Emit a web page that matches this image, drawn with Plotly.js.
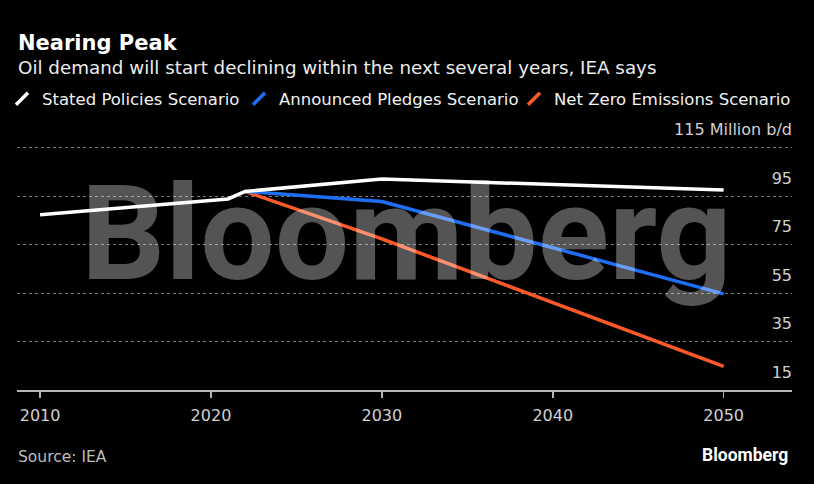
<!DOCTYPE html>
<html>
<head>
<meta charset="utf-8">
<script src="https://cdn.plot.ly/plotly-3.0.1.min.js"></script>
<style>
  html, body { margin: 0; padding: 0; background: #000; }
  #chart { width: 814px; height: 484px; }
</style>
</head>
<body>
<div id="chart"></div>
<script>
// ---- data (million barrels per day) ----
const statedYears = [2010, 2021, 2022, 2030, 2050];
const statedValues = [87.4, 93.9, 97.0, 102.1, 97.6];
const pledgesYears = [2022, 2030, 2050];
const pledgesValues = [97.0, 92.8, 54.7];
const netZeroYears = [2022, 2030, 2050];
const netZeroValues = [97.0, 77.4, 24.8];

const seriesNames = ["Stated Policies Scenario", "Announced Pledges Scenario", "Net Zero Emissions Scenario"];
const xTickVals = [2010, 2020, 2030, 2040, 2050];
const yTickVals = [15, 35, 55, 75, 95, 115];
const yTickText = ["15", "35", "55", "75", "95", "115 Million b/d"];

const colors = ["#ffffff", "#1f6ff6", "#ff5a28"];
const FONT = "DejaVu Sans, Verdana, sans-serif";

const W = 814, H = 484;
const Y_MIN = 15, Y_MAX = 128;            // axis range (top padded so the unit label fits)
const PX_PER_UNIT = 2.45;
const L = 17, R = 22, B = 94;
const T = (H - B) - (Y_MAX - Y_MIN) * PX_PER_UNIT;
const pw = W - L - R, ph = H - T - B;
const px = x => (x - L) / pw;
const py = y => (H - B - y) / ph;

const lineTraces = [
  {x: netZeroYears, y: netZeroValues, name: seriesNames[2], color: colors[2]},
  {x: pledgesYears, y: pledgesValues, name: seriesNames[1], color: colors[1]},
  {x: statedYears, y: statedValues, name: seriesNames[0], color: colors[0]}
].map(s => ({
  type: "scatter", mode: "lines", x: s.x, y: s.y, name: s.name,
  line: {color: s.color, width: 3.5},
  showlegend: false, hoverinfo: "skip"
}));

const legendIds = ["legend", "legend2", "legend3"];
const legendTraces = seriesNames.map((n, i) => ({
  type: "scatter", mode: "markers", x: [null], y: [null], name: n,
  yaxis: "y2",
  legend: legendIds[i],
  marker: {symbol: "line-ne", size: 12, color: colors[i], line: {color: colors[i], width: 3.5}},
  showlegend: true
}));

const legendX = [2, 239, 514];
const legendBase = {
  orientation: "h", xref: "container", yref: "container",
  yanchor: "middle", xanchor: "left",
  bgcolor: "rgba(0,0,0,0)", borderwidth: 0,
  font: {family: FONT, size: 16.5, color: "#f2f2f2"}
};
const legends = {};
legendIds.forEach((id, i) => {
  legends[id] = Object.assign({}, legendBase, {x: legendX[i] / W, y: 1 - 99 / H});
});

const layout = Object.assign({
  width: W, height: H,
  paper_bgcolor: "#000", plot_bgcolor: "#000",
  margin: {l: L, r: R, t: T, b: B, pad: 0},
  showlegend: true,
  xaxis: {
    range: [2008.65, 2054], tickvals: xTickVals, ticktext: xTickVals.map(String),
    showgrid: false, zeroline: false,
    showline: true, linecolor: "#b5b5b5", linewidth: 1.5,
    ticks: "outside", ticklen: 6, tickcolor: "#b5b5b5", tickwidth: 1.5,
    ticklabelstandoff: 4,
    tickfont: {family: FONT, size: 16, color: "#d0d0d0"},
    fixedrange: true
  },
  yaxis: {
    side: "right", range: [Y_MIN, Y_MAX], tickvals: yTickVals,
    showticklabels: false,
    showgrid: true, gridcolor: "#7a7a7a", griddash: "dot", gridwidth: 1,
    zeroline: false, showline: false, ticks: "",
    fixedrange: true
  },
  // labels drawn by a left-sided axis pinned to the right edge -> right-aligned labels
  yaxis2: {
    overlaying: "y", anchor: "free", position: 1, side: "left",
    range: [Y_MIN, Y_MAX], tickvals: yTickVals, ticktext: yTickText,
    ticklabelshift: -18, ticklabelstandoff: 0,
    showgrid: false, zeroline: false, showline: false, ticks: "",
    tickfont: {family: FONT, size: 16, color: "#d0d0d0"},
    fixedrange: true
  },
  annotations: [
    {text: "Bloomberg", xref: "paper", yref: "paper", x: px(406.5), y: py(232),
     xanchor: "center", yanchor: "middle", showarrow: false,
     font: {family: "Roboto, Liberation Sans, sans-serif", size: 132, weight: "bold", color: "rgba(255,255,255,0.33)"}},
    {text: "<b>Nearing Peak</b>", xref: "paper", yref: "paper", x: px(16), y: py(38.7),
     xanchor: "left", yanchor: "middle", showarrow: false,
     font: {family: FONT, size: 21, color: "#ffffff"}},
    {text: "Oil demand will start declining within the next several years, IEA says", xref: "paper", yref: "paper",
     x: px(16), y: py(64), xanchor: "left", yanchor: "middle", showarrow: false,
     font: {family: FONT, size: 18.3, color: "#ececec"}},
    {text: "Source: IEA", xref: "paper", yref: "paper", x: px(16), y: py(458),
     xanchor: "left", yanchor: "middle", showarrow: false,
     font: {family: FONT, size: 15.5, color: "#bdbdbd"}},
    {text: "<b>Bloomberg</b>", xref: "paper", yref: "paper", x: px(790), y: py(455.7),
     xanchor: "right", yanchor: "middle", showarrow: false,
     font: {family: "Roboto, Liberation Sans, sans-serif", size: 17.5, color: "#ffffff"}}
  ]
}, legends);

Plotly.newPlot("chart", lineTraces.concat(legendTraces), layout, {displayModeBar: false, staticPlot: true});
</script>
</body>
</html>
